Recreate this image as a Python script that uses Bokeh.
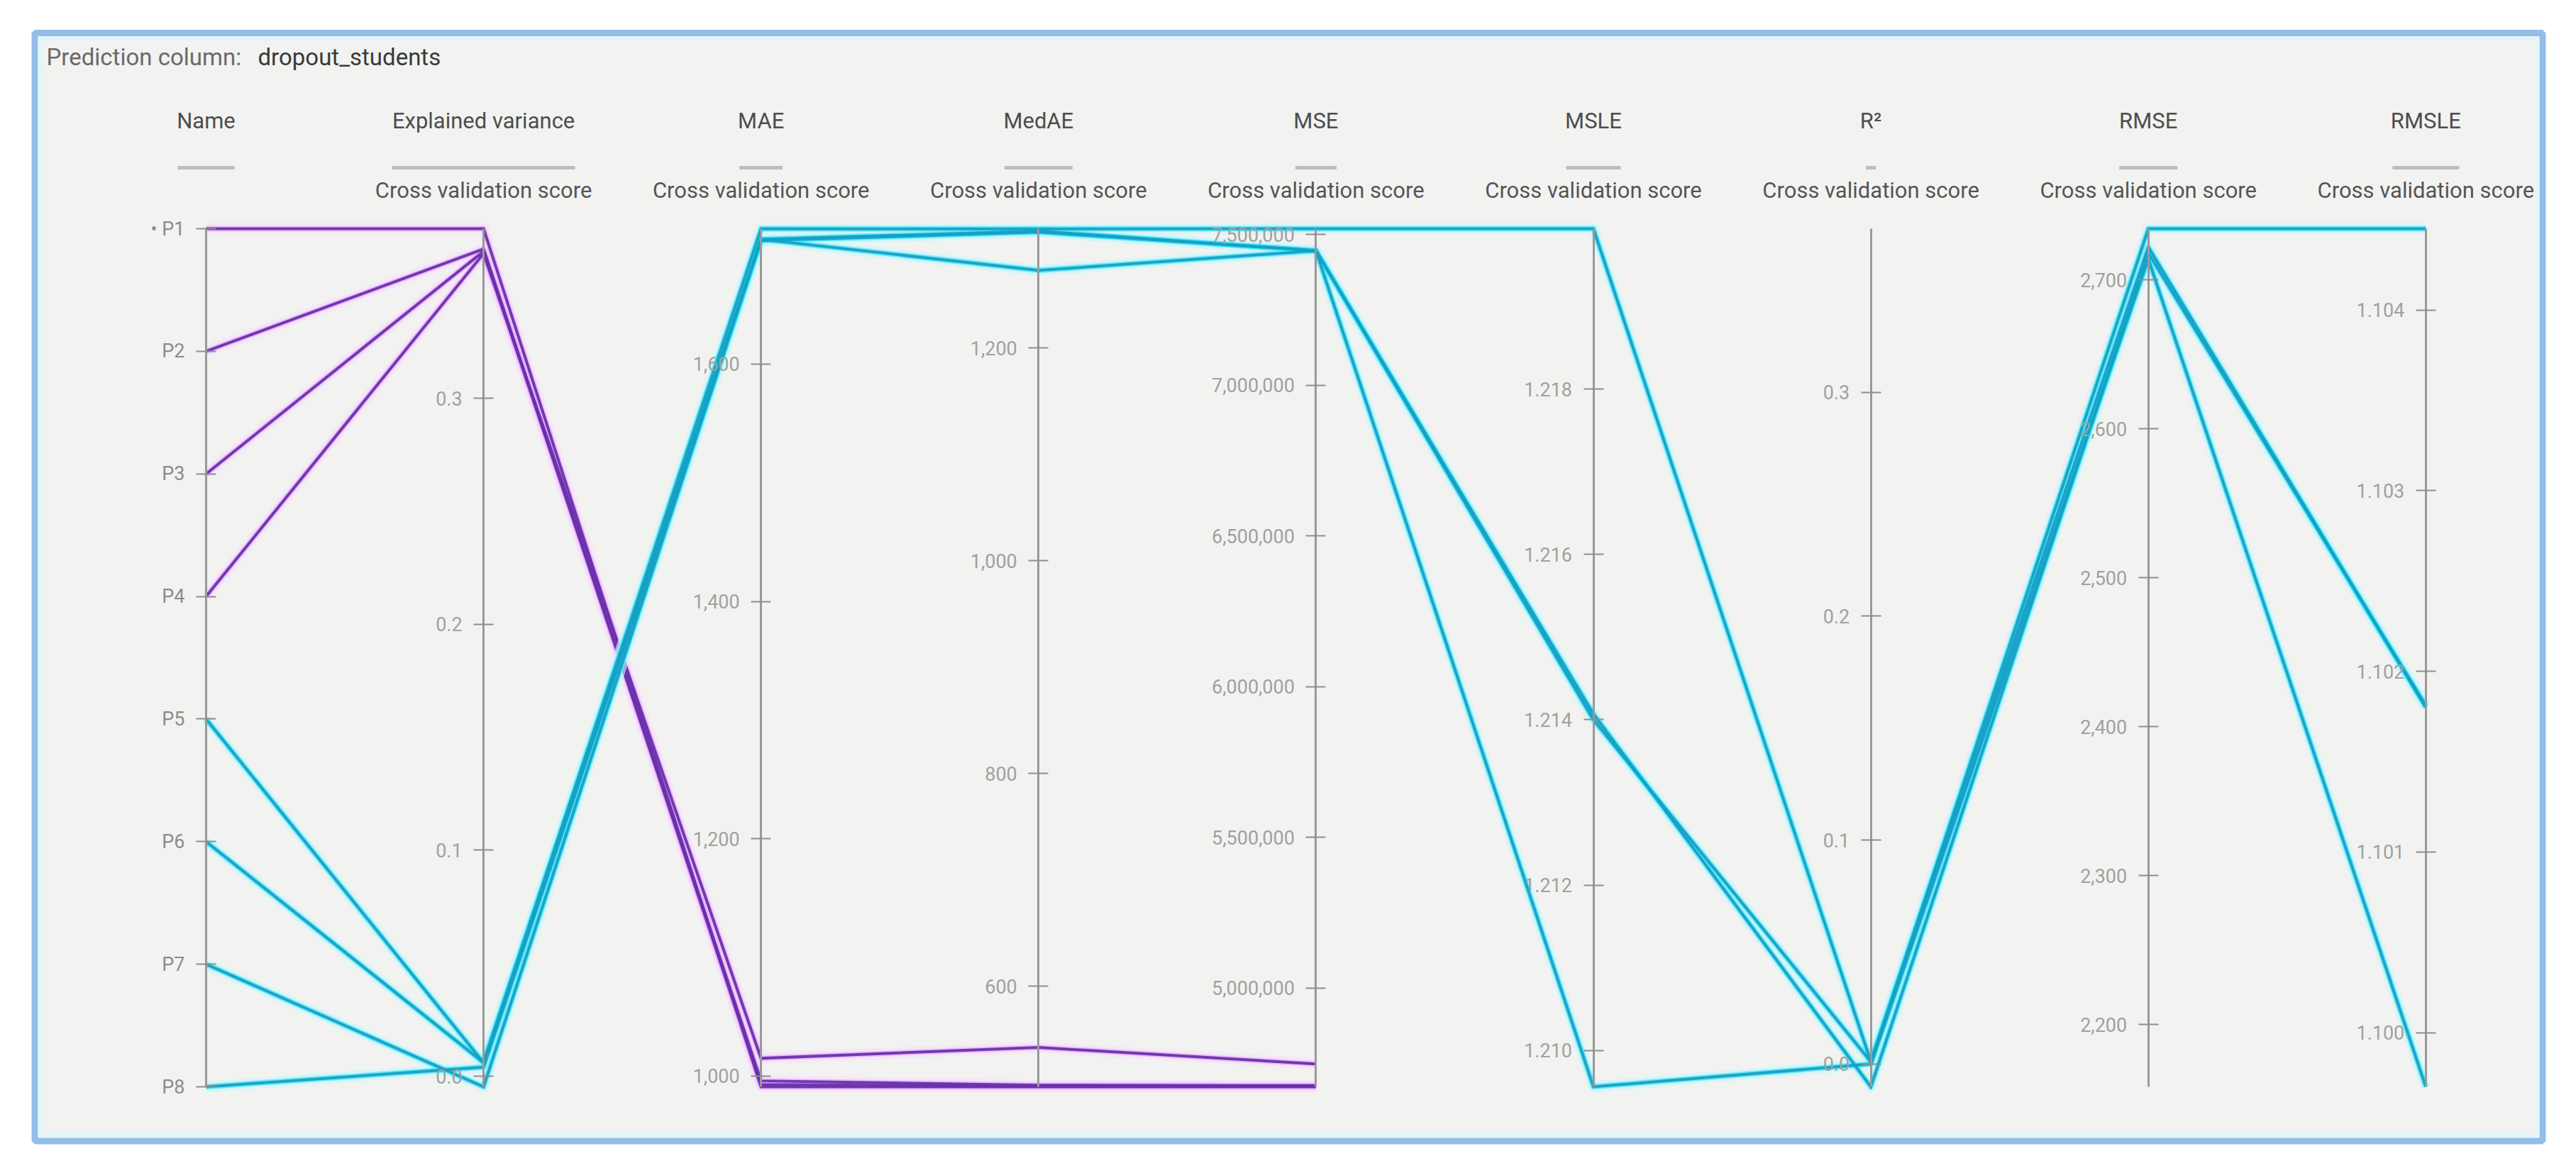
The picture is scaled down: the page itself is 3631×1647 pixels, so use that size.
from bokeh.plotting import figure
from bokeh.models import Range1d, LinearAxis, FixedTicker, NumeralTickFormatter
from bokeh.core.properties import value
from bokeh.embed import file_html
from bokeh.resources import INLINE

# ---------------- data ----------------
title_label = "Prediction column:"
title_value = "dropout_students"
name_title = "Name"
sub_title = "Cross validation score"
models = ["P1", "P2", "P3", "P4", "P5", "P6", "P7", "P8"]
model_labels = ["\u2022 P1", "P2", "P3", "P4", "P5", "P6", "P7", "P8"]
model_group = ["purple", "purple", "purple", "purple", "cyan", "cyan", "cyan", "cyan"]
name_rank = [8, 7, 6, 5, 4, 3, 2, 1]          # P1 at top of the Name axis
metrics = ["Explained variance", "MAE", "MedAE", "MSE", "MSLE", "R\u00b2", "RMSE", "RMSLE"]

explained_variance = [0.375, 0.366, 0.365, 0.364, 0.006, 0.006, -0.0047, 0.004]
mae = [991, 993, 996, 1015, 1714, 1705, 1705, 1704]
medae = [505.5, 506, 507, 542.5, 1312, 1273, 1310, 1309]
mse = [4672000, 4673000, 4676000, 4748000, 7519000, 7446000, 7446000, 7446000]
msle = [None, None, None, None, 1.21994, 1.21407, 1.21400, 1.20956]
r2 = [None, None, None, None, 0.001, -0.0102, 0.001, 0.0]
rmse = [None, None, None, None, 2734.4, 2718, 2722, 2714]
rmsle = [None, None, None, None, 1.10445, 1.10181, 1.10180, 1.0997]

axis_min = [-0.0047, 991, 505.5, 4672000, 1.20956, -0.0102, 2158.1, 1.0997]
axis_max = [0.375, 1714, 1312.2, 7519000, 1.21994, 0.3731, 2734.4, 1.10445]

ev_ticks = [0.0, 0.1, 0.2, 0.3]
mae_ticks = [1000, 1200, 1400, 1600]
medae_ticks = [600, 800, 1000, 1200]
mse_ticks = [5000000, 5500000, 6000000, 6500000, 7000000, 7500000]
msle_ticks = [1.210, 1.212, 1.214, 1.216, 1.218]
r2_ticks = [0.0, 0.1, 0.2, 0.3]
rmse_ticks = [2200, 2300, 2400, 2500, 2600, 2700]
rmsle_ticks = [1.100, 1.101, 1.102, 1.103, 1.104]

# ---------------- layout / style ----------------
FONT = "Roboto"
W, H = 3614, 1630
ORG = 0
AX0, AX_STEP = 290.0, 391.1
AX_TOP, AX_BOT = 322.0, 1532.0
tick_formats = ["0.0", "0,0", "0,0", "0,0", "0.000", "0.0", "0,0", "0.000"]
underline_widths = [80, 258, 61, 96, 58, 77, 14, 82, 94]
colors = {"purple": ("#6a30ab", "#e3a8fb", "#f6e0fd"),
          "cyan": ("#16a0c4", "#2fe2fa", "#c9f7fd")}

all_cols = [explained_variance, mae, medae, mse, msle, r2, rmse, rmsle]
all_ticks = [ev_ticks, mae_ticks, medae_ticks, mse_ticks, msle_ticks, r2_ticks, rmse_ticks, rmsle_ticks]

span_px = AX_BOT - AX_TOP
y0 = (AX_BOT - (ORG + H)) / span_px
y1 = (AX_BOT - ORG) / span_px
x0 = (ORG - AX0) / AX_STEP
x1 = (ORG + W - AX0) / AX_STEP

p = figure(width=W, height=H, x_range=Range1d(x0, x1), y_range=Range1d(y0, y1),
           x_axis_type=None, y_axis_type=None, toolbar_location=None,
           output_backend="svg", min_border=0, outline_line_color=None,
           background_fill_color="white", border_fill_color="white")
p.grid.visible = False

extra_y = {"py": Range1d(ORG + H, ORG)}
extra_y["name"] = Range1d(1 + 7 * y0, 1 + 7 * y1)
for i in range(len(metrics)):
    lo, hi = axis_min[i], axis_max[i]
    extra_y["m%d" % i] = Range1d(lo + (hi - lo) * y0, lo + (hi - lo) * y1)
p.extra_y_ranges = extra_y
p.extra_x_ranges = {"px": Range1d(ORG, ORG + W)}

# panel frame
p.quad(left=[48.5], right=[3583.5], top=[46], bottom=[1608.5], x_range_name="px", y_range_name="py",
       fill_color="#f2f3f1", line_color="#94bde8", line_width=9)
p.quad(left=[56], right=[3576], top=[53.5], bottom=[1601], x_range_name="px", y_range_name="py",
       fill_color=None, line_color="#e0f6fb", line_width=6)

# title
p.text(x=[65], y=[80], text=[title_label], x_range_name="px", y_range_name="py",
       text_font=value(FONT), text_font_size="33px", text_color="#6a6a6a",
       text_align="left", text_baseline="middle")
p.text(x=[363], y=[80], text=[title_value], x_range_name="px", y_range_name="py",
       text_font=value(FONT), text_font_size="33px", text_color="#3a3a3a",
       text_align="left", text_baseline="middle")

# headers
heads = [name_title] + metrics
p.text(x=list(range(len(heads))), y=[170] * len(heads), text=heads, y_range_name="py",
       text_font=value(FONT), text_font_size="31px", text_color="#4d4d4d",
       text_align="center", text_baseline="middle")
p.rect(x=list(range(len(heads))), y=[236] * len(heads), width=underline_widths, width_units="screen",
       height=5, height_units="screen", y_range_name="py", fill_color="#bdbdbd", line_color=None)
p.text(x=list(range(1, len(heads))), y=[268] * len(metrics), text=[sub_title] * len(metrics),
       y_range_name="py", text_font=value(FONT), text_font_size="31px", text_color="#555555",
       text_align="center", text_baseline="middle")


def style_axis(ax, label_color):
    ax.axis_line_color = "#999999"
    ax.axis_line_width = 3
    ax.major_tick_line_color = "#8d8d8d"
    ax.major_tick_line_width = 2
    ax.major_tick_in = 14
    ax.major_tick_out = 14
    ax.minor_tick_line_color = None
    ax.major_label_standoff = 16
    ax.major_label_text_font = FONT
    ax.major_label_text_font_size = "27px"
    ax.major_label_text_color = label_color


name_ax = LinearAxis(y_range_name="name", fixed_location=0, bounds=(1, 8),
                     ticker=FixedTicker(ticks=list(range(1, 9))),
                     major_label_overrides={r: lab for r, lab in zip(name_rank, model_labels)})
style_axis(name_ax, "#8c8c8c")
p.add_layout(name_ax, "left")

for i in range(len(metrics)):
    ax = LinearAxis(y_range_name="m%d" % i, fixed_location=i + 1,
                    bounds=(axis_min[i], axis_max[i]),
                    ticker=FixedTicker(ticks=all_ticks[i]),
                    formatter=NumeralTickFormatter(format=tick_formats[i]))
    style_axis(ax, "#a0a0a0")
    p.add_layout(ax, "left")

# polylines (normalised per axis)
lines = {"purple": ([], []), "cyan": ([], [])}
for k in range(len(models)):
    xs = [0]
    ys = [(name_rank[k] - 1) / 7.0]
    for i, col in enumerate(all_cols):
        v = col[k]
        if v is None:
            break
        xs.append(i + 1)
        ys.append((v - axis_min[i]) / (axis_max[i] - axis_min[i]))
    lines[model_group[k]][0].append(xs)
    lines[model_group[k]][1].append(ys)

for g in ["purple", "cyan"]:
    core, glow, halo = colors[g]
    xs, ys = lines[g]
    p.multi_line(xs=xs, ys=ys, line_color=halo, line_width=16, line_alpha=0.6, line_join="round")
    p.multi_line(xs=xs, ys=ys, line_color=glow, line_width=8, line_alpha=0.6, line_join="round")
    p.multi_line(xs=xs, ys=ys, line_color=core, line_width=4, line_alpha=0.95, line_join="miter")

open("out.html", "w").write(file_html(p, INLINE))
